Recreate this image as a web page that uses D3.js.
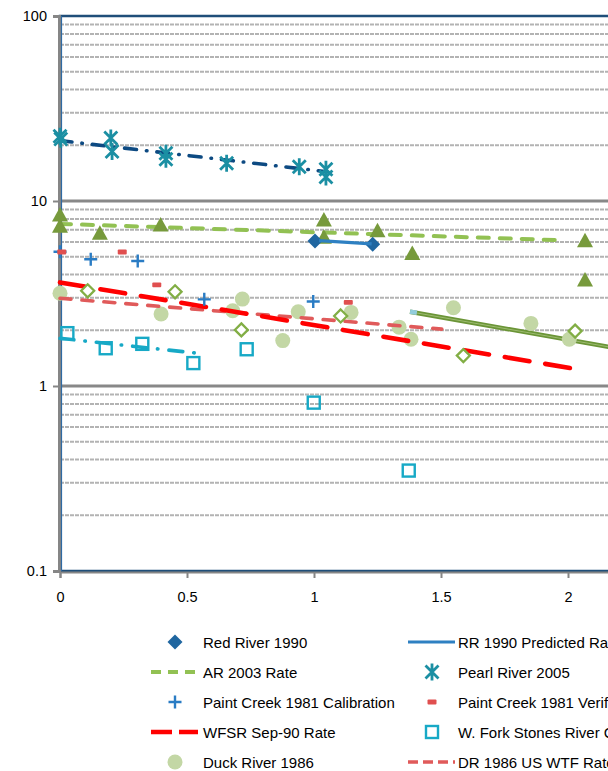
<!DOCTYPE html>
<html><head><meta charset="utf-8">
<script src="https://cdn.jsdelivr.net/npm/d3@7"></script>
<style>html,body{margin:0;padding:0;overflow:hidden;background:#fff}svg{display:block}</style>
</head><body>
<svg id="c" width="608" height="771"></svg>
<script>
// ---- data ----
const yTicks = [0.1, 1, 10, 100];
const xTicks = [0, 0.5, 1, 1.5, 2];

const redRiverX = [1.004, 1.231];
const redRiverY = [6.08, 5.83];
const rrPredX = [1.02, 1.227];
const rrPredY = [6.1, 5.87];

const ar2003X = [0, 0, 0.157, 0.396, 1.039, 1.039, 1.25, 1.387, 2.067, 2.067];
const ar2003Y = [8.4, 7.3, 6.69, 7.42, 7.89, 6.37, 6.91, 5.21, 6.1, 3.74];
const arRateX = [0, 1.97];
const arRateY = [7.52, 6.14];

const pearlX = [0, 0.003, 0.2, 0.205, 0.417, 0.417, 0.656, 0.942, 1.047, 1.047];
const pearlY = [22.4, 21.6, 21.9, 18.5, 18.1, 16.8, 16.0, 15.3, 14.84, 13.5];
const pearlTrendX = [0, 1.05];
const pearlTrendY = [21.2, 14.4];

const paintCalX = [0, 0.121, 0.306, 0.568, 0.997];
const paintCalY = [5.32, 4.84, 4.74, 2.94, 2.86];
const paintVerX = [0.007, 0.245, 0.381, 1.135];
const paintVerY = [5.3, 5.3, 3.52, 2.83];

const wfsrRateX = [0, 2.03];
const wfsrRateY = [3.63, 1.236];

const wforkX = [0.029, 0.18, 0.324, 0.525, 0.735, 0.999, 1.373];
const wforkY = [1.93, 1.60, 1.69, 1.33, 1.58, 0.813, 0.349];
const wforkTrendX = [0, 0.53];
const wforkTrendY = [1.81, 1.51];

const duckX = [0, 0.398, 0.718, 0.68, 0.938, 0.877, 1.146, 1.335, 1.382, 1.549, 1.854, 2.005];
const duckY = [3.17, 2.45, 2.95, 2.55, 2.52, 1.76, 2.50, 2.08, 1.79, 2.65, 2.18, 1.79];
const drUsX = [0, 1.503];
const drUsY = [2.98, 2.03];

const drDsX = [0.109, 0.453, 0.714, 1.105, 1.588, 2.028];
const drDsY = [3.27, 3.23, 2.01, 2.39, 1.46, 1.98];
const drDsRateX = [1.378, 2.3];
const drDsRateY = [2.52, 1.505];
const drStartX = [1.378, 1.405];
const drStartY = [2.52, 2.49];

const legendCol1 = ["Red River 1990", "AR 2003 Rate", "Paint Creek 1981 Calibration", "WFSR Sep-90 Rate", "Duck River 1986"];
const legendCol2 = ["RR 1990 Predicted Rate", "Pearl River 2005", "Paint Creek 1981 Verification", "W. Fork Stones River Calibration", "DR 1986 US WTF Rate"];

// ---- chart ----
const svg = d3.select("#c");
const L = 60, T = 16, B = 571;
const x = d3.scaleLinear().domain([0, 2.5]).range([L, L + 254 * 2.5]);
const y = d3.scaleLog().domain([0.1, 100]).range([B, T]);
const R = x(2.5);
const font = "'Liberation Sans', Arial, sans-serif";

// minor gridlines
const minor = [];
[0.1, 1, 10].forEach(d => { for (let k = 2; k <= 9; k++) minor.push(d * k); });
svg.append("g").selectAll("line").data(minor).join("line")
  .attr("x1", L).attr("x2", R).attr("y1", d => y(d)).attr("y2", d => y(d))
  .attr("stroke", "#b3b3b3").attr("stroke-width", 2).attr("stroke-dasharray", "4,1");
// major gridlines
svg.append("g").selectAll("line").data([1, 10]).join("line")
  .attr("x1", L).attr("x2", R).attr("y1", d => y(d)).attr("y2", d => y(d))
  .attr("stroke", "#888888").attr("stroke-width", 2.8);

// plot border
svg.append("rect").attr("x", L).attr("y", T).attr("width", R - L).attr("height", B - T)
  .attr("fill", "none").attr("stroke", "#1f4e79").attr("stroke-width", 2.5);

// axes
const yAxis = d3.axisLeft(y).tickValues(yTicks).tickFormat(d => d3.format("")(d)).tickSize(6).tickPadding(6);
const gy = svg.append("g").attr("transform", `translate(${L - 1},0)`).call(yAxis);
gy.select(".domain").attr("stroke", "#868686").attr("stroke-width", 3);
gy.selectAll(".tick line").attr("stroke", "#868686").attr("stroke-width", 2);
gy.selectAll("text").attr("font-family", font).attr("font-size", 14.5).attr("fill", "#000");

const xAxis = d3.axisBottom(x).tickValues(xTicks).tickFormat(d3.format("")).tickSize(6).tickPadding(14);
const gx = svg.append("g").attr("transform", `translate(0,${B + 1})`).call(xAxis);
gx.select(".domain").attr("stroke", "#868686").attr("stroke-width", 2);
gx.selectAll(".tick line").attr("stroke", "#868686").attr("stroke-width", 2);
gx.selectAll("text").attr("font-family", font).attr("font-size", 14.5).attr("fill", "#000");

// blue inner left edge
svg.append("line").attr("x1", L + 1.5).attr("x2", L + 1.5).attr("y1", T).attr("y2", B)
  .attr("stroke", "#2f6aa3").attr("stroke-width", 1.2);

const zip = (xs, ys) => xs.map((v, i) => [v, ys[i]]);
const line = d3.line().x(d => x(d[0])).y(d => y(d[1]));
function drawLine(xs, ys, color, w, dash, cap) {
  svg.append("path").datum(zip(xs, ys)).attr("d", line).attr("fill", "none")
    .attr("stroke", color).attr("stroke-width", w)
    .attr("stroke-dasharray", dash || null).attr("stroke-linecap", cap || "round");
}

// marker shapes
const M = {
  diamond: (g) => g.append("path").attr("d", "M0,-7.5L7.5,0L0,7.5L-7.5,0Z").attr("fill", "#1f66a0"),
  triangle: (g) => g.append("path").attr("d", "M0,-8L8,6.5L-8,6.5Z").attr("fill", "#779a3c"),
  star: (g) => g.append("path").attr("d", "M-6.5,-6.5L6.5,6.5M-6.5,6.5L6.5,-6.5M0,-8.5L0,8.5").attr("stroke", "#1b8fa3").attr("stroke-width", 2.8).attr("fill", "none"),
  plus: (g) => g.append("path").attr("d", "M-6.5,0L6.5,0M0,-6.5L0,6.5").attr("stroke", "#2a7cc4").attr("stroke-width", 2.4).attr("fill", "none"),
  dash: (g) => g.append("rect").attr("x", -4.5).attr("y", -2.4).attr("width", 9).attr("height", 4.8).attr("rx", 1).attr("fill", "#e04f4f"),
  square: (g) => g.append("rect").attr("x", -6).attr("y", -6).attr("width", 12).attr("height", 12).attr("fill", "none").attr("stroke", "#17a9c6").attr("stroke-width", 2.4),
  circle: (g) => g.append("circle").attr("r", 7.5).attr("fill", "#c3d7a5"),
  odiamond: (g) => g.append("path").attr("d", "M0,-6.5L6.5,0L0,6.5L-6.5,0Z").attr("fill", "#fff").attr("stroke", "#82ae45").attr("stroke-width", 2.3)
};
function drawPoints(xs, ys, shape) {
  zip(xs, ys).forEach(d => {
    const g = svg.append("g").attr("transform", `translate(${x(d[0])},${y(d[1])})`);
    M[shape](g);
  });
}

// series (drawing order)
drawLine(drDsRateX, drDsRateY, "#6b9537", 4.5, null, "butt");
drawLine(drDsRateX, drDsRateY, "#a9c57f", 0.8, null, "butt");
drawLine(drStartX, drStartY, "#92cddc", 4.5, null, "butt");
drawPoints(duckX, duckY, "circle");
drawLine(drUsX, drUsY, "#e05a5a", 3.6, "11,11");
drawLine(wfsrRateX, wfsrRateY, "#ff0000", 4.6, "25,16");
drawLine(arRateX, arRateY, "#92c153", 4, "11,11");
drawPoints(ar2003X, ar2003Y, "triangle");
drawPoints(redRiverX, redRiverY, "diamond");
drawLine(rrPredX, rrPredY, "#2e80c2", 3.2, null, "butt");
drawLine(pearlTrendX, pearlTrendY, "#0d4a82", 3.6, "12,10,0.5,10");
drawPoints(pearlX, pearlY, "star");
drawPoints(paintCalX, paintCalY, "plus");
drawPoints(paintVerX, paintVerY, "dash");
drawLine(wforkTrendX, wforkTrendY, "#17a9c6", 3.6, "14,11,0.5,11");
drawPoints(wforkX, wforkY, "square");
drawPoints(drDsX, drDsY, "odiamond");

// legend
const rowY = [642, 672, 702, 732, 762];
const lg = svg.append("g").attr("font-family", font).attr("font-size", 15).attr("fill", "#000");
function legendSample(cx, cy, kind) {
  const g = lg.append("g").attr("transform", `translate(${cx},${cy})`);
  const seg = (color, w, dash) => g.append("line").attr("x1", -24).attr("x2", 23).attr("stroke", color)
    .attr("stroke-width", w).attr("stroke-dasharray", dash || null);
  if (kind === "arRate") seg("#92c153", 4, "10,7");
  else if (kind === "wfsr") seg("#ff0000", 4.5, "21,7");
  else if (kind === "rr") seg("#2e80c2", 3.2);
  else if (kind === "dr") seg("#e05a5a", 3.6, "10,5");
  else M[kind](g);
}
const kinds1 = ["diamond", "arRate", "plus", "wfsr", "circle"];
const kinds2 = ["rr", "star", "dash", "square", "dr"];
legendCol1.forEach((t, i) => {
  legendSample(175, rowY[i], kinds1[i]);
  lg.append("text").attr("x", 203).attr("y", rowY[i] + 5.5).text(t);
});
legendCol2.forEach((t, i) => {
  legendSample(432, rowY[i], kinds2[i]);
  lg.append("text").attr("x", 458).attr("y", rowY[i] + 5.5).text(t);
});
</script>
</body></html>
